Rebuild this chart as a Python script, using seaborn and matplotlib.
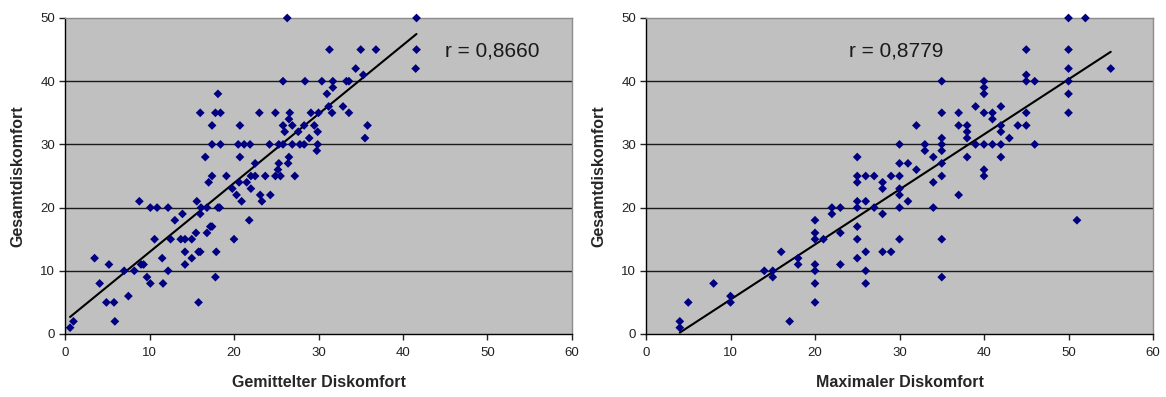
import numpy as np
import pandas as pd
import matplotlib
matplotlib.use("Agg")
import matplotlib.pyplot as plt
import seaborn as sns

# ---------------- data ----------------
gem_x = [26.3, 41.6,
         41.6, 31.3, 35.0, 36.8,
         41.5, 34.4, 35.3,
         25.8, 28.4, 30.4, 31.7, 33.3, 33.6,
         31.7, 31.0, 18.1,
         31.2, 32.9,
         16.0, 17.8, 18.4, 23.0, 24.9, 26.6, 29.1, 30.0, 31.6, 33.6,
         26.5,
         17.4, 20.7, 25.8, 26.9, 28.3, 29.5, 35.8,
         26.0, 27.6, 29.9,
         28.9, 35.5,
         17.4, 18.4, 20.5, 21.2, 21.9, 24.2, 25.3, 25.8, 26.9, 27.8, 28.3, 29.9,
         29.8,
         16.6, 20.7, 26.5,
         22.5, 25.3, 26.4,
         25.2,
         17.4, 19.1, 22.0, 22.5, 23.7, 24.9, 25.5, 27.2,
         17.0, 20.6, 21.5,
         19.8, 22.0,
         20.3, 23.1, 24.3,
         20.9, 23.3, 15.6, 8.8,
         10.1, 10.9, 12.2, 16.1, 16.8, 18.1, 18.3,
         16.0, 13.9,
         13.0, 21.8,
         17.2, 17.4,
         15.5, 16.8,
         10.6, 12.5, 13.7, 14.2, 15.0, 20.0,
         14.2, 15.8, 16.0, 17.9,
         11.5, 15.0, 3.5,
         14.2, 5.2, 9.0, 9.3,
         12.2, 7.0, 8.2,
         17.8, 9.7,
         10.1, 11.6, 4.1,
         7.5,
         15.8, 4.9, 5.8,
         5.9, 1.0,
         0.6]
gem_y = [50, 50,
         45, 45, 45, 45,
         42, 42, 41,
         40, 40, 40, 40, 40, 40,
         39, 38, 38,
         36, 36,
         35, 35, 35, 35, 35, 35, 35, 35, 35, 35,
         34,
         33, 33, 33, 33, 33, 33, 33,
         32, 32, 32,
         31, 31,
         30, 30, 30, 30, 30, 30, 30, 30, 30, 30, 30, 30,
         29,
         28, 28, 28,
         27, 27, 27,
         26,
         25, 25, 25, 25, 25, 25, 25, 25,
         24, 24, 24,
         23, 23,
         22, 22, 22,
         21, 21, 21, 21,
         20, 20, 20, 20, 20, 20, 20,
         19, 19,
         18, 18,
         17, 17,
         16, 16,
         15, 15, 15, 15, 15, 15,
         13, 13, 13, 13,
         12, 12, 12,
         11, 11, 11, 11,
         10, 10, 10,
         9, 9,
         8, 8, 8,
         6,
         5, 5, 5,
         2, 2,
         1]

max_x = [50, 52,
         45, 50,
         50, 55,
         45,
         35, 40, 45, 46, 50,
         40,
         40, 50,
         39, 42,
         35, 37, 40, 41, 45, 50,
         41,
         32, 37, 38, 42, 44, 45,
         38, 42,
         38, 35, 43,
         30, 33, 35, 39, 40, 41, 42, 46,
         33, 35,
         25, 34, 38, 42,
         30, 31, 35,
         32, 40,
         25, 26, 27, 29, 30, 35, 40,
         25, 28, 34,
         28, 30,
         30, 37,
         25, 26, 31,
         22, 23, 25, 27, 30, 34,
         22, 28,
         20, 51,
         25,
         20, 23,
         20, 21, 25, 30, 35,
         16, 26, 28, 29,
         18, 25,
         18, 20, 23,
         14, 15, 20, 26,
         15, 35,
         8, 20, 26,
         10,
         5, 10, 20,
         4, 17,
         4]
max_y = [50, 50,
         45, 45,
         42, 42,
         41,
         40, 40, 40, 40, 40,
         39,
         38, 38,
         36, 36,
         35, 35, 35, 35, 35, 35,
         34,
         33, 33, 33, 33, 33, 33,
         32, 32,
         31, 31, 31,
         30, 30, 30, 30, 30, 30, 30, 30,
         29, 29,
         28, 28, 28, 28,
         27, 27, 27,
         26, 26,
         25, 25, 25, 25, 25, 25, 25,
         24, 24, 24,
         23, 23,
         22, 22,
         21, 21, 21,
         20, 20, 20, 20, 20, 20,
         19, 19,
         18, 18,
         17,
         16, 16,
         15, 15, 15, 15, 15,
         13, 13, 13, 13,
         12, 12,
         11, 11, 11,
         10, 10, 10, 10,
         9, 9,
         8, 8, 8,
         6,
         5, 5, 5,
         2, 2,
         1]

panels = [
    (gem_x, gem_y, "Gemittelter Diskomfort", "r = 0,8660", (45.0, 44.8)),
    (max_x, max_y, "Maximaler Diskomfort", "r = 0,8779", (24.0, 44.7)),
]
x_ticks = [0, 10, 20, 30, 40, 50, 60]
y_ticks = [0, 10, 20, 30, 40, 50]
y_label = "Gesamtdiskomfort"

# ---------------- plot ----------------
sns.set_theme(style="white")
plt.rcParams["font.family"] = ["Liberation Sans", "DejaVu Sans"]

fig = plt.figure(figsize=(11.66, 3.97), dpi=100)
positions = [[65 / 1166, 63 / 397, 507 / 1166, 316 / 397],
             [646 / 1166, 63 / 397, 507 / 1166, 316 / 397]]

for pos, (xs, ys, xlabel, rtext, rpos) in zip(positions, panels):
    ax = fig.add_axes(pos)
    df = pd.DataFrame({"x": xs, "y": ys})
    ax.set_facecolor("#C0C0C0")
    for yv in y_ticks[1:-1]:
        ax.axhline(yv, color="#1a1a1a", lw=1.0, zorder=1)
    sns.regplot(data=df, x="x", y="y", ax=ax, scatter=False, ci=None,
                truncate=True, line_kws=dict(color="black", lw=1.5, zorder=3))
    sns.scatterplot(data=df, x="x", y="y", ax=ax, marker="D", s=20,
                    color="#000080", edgecolor="none", zorder=4, clip_on=False)
    ax.set_xlim(0, 60)
    ax.set_ylim(0, 50)
    ax.set_xticks(x_ticks)
    ax.set_yticks(y_ticks)
    ax.tick_params(axis="both", direction="out", length=4, width=1,
                   labelsize=9.5, colors="#222222", pad=3,
                   bottom=True, left=True)
    ax.tick_params(axis="x", pad=5)
    for side in ["left", "bottom"]:
        ax.spines[side].set_color("black")
        ax.spines[side].set_linewidth(1.0)
    for side in ["top", "right"]:
        ax.spines[side].set_color("#8c8c8c")
        ax.spines[side].set_linewidth(1.0)
    ax.set_xlabel(xlabel, fontsize=11.5, fontweight="bold", labelpad=12)
    ax.set_ylabel(y_label, fontsize=11.5, fontweight="bold", labelpad=11)
    ax.text(rpos[0], rpos[1], rtext, fontsize=15, color="#1a1a1a",
            ha="left", va="center")

fig.savefig("out.png", dpi=100)
